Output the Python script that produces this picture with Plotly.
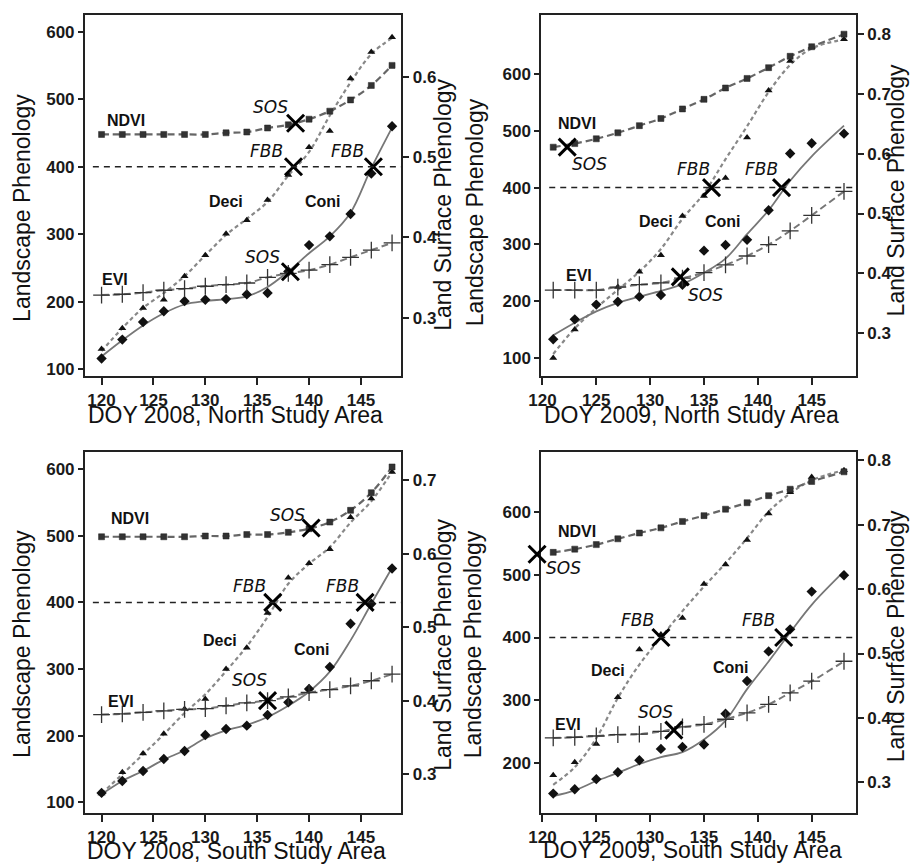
import plotly.graph_objects as go

# ---------------- North Study Area, 2008 ----------------
doy_n08 = [120, 122, 124, 126, 128, 130, 132, 134, 136, 138, 140, 142, 144, 146, 148]
ndvi_n08 = [0.528, 0.528, 0.528, 0.528, 0.528, 0.528, 0.530, 0.531, 0.536, 0.540, 0.547, 0.557, 0.571, 0.589, 0.614]
evi_n08 = [0.328, 0.329, 0.331, 0.334, 0.336, 0.339, 0.341, 0.343, 0.350, 0.355, 0.359, 0.366, 0.375, 0.384, 0.393]
deci_n08 = [130, 161, 191, 203, 238, 269, 301, 321, 351, 388, 429, 453, 531, 570, 592]
deci_fit_n08 = [127, 161, 191, 213, 238, 269, 299, 323, 348, 387, 422, 476, 525, 567, 591]
coni_n08 = [116, 144, 170, 186, 201, 203, 204, 211, 213, 245, 284, 297, 330, 390, 460]
coni_fit_n08 = [119, 143, 165, 183, 196, 201, 204, 208, 222, 245, 272, 297, 332, 398, 458]
sos_ndvi_n08 = (138.7, 0.542)
sos_evi_n08 = (138.2, 0.357)
fbb_n08 = ([138.5, 146.2], [400, 400])

# ---------------- North Study Area, 2009 ----------------
doy_n09 = [121, 123, 125, 127, 129, 131, 133, 135, 137, 139, 141, 143, 145, 148]
ndvi_n09 = [0.611, 0.617, 0.625, 0.635, 0.647, 0.659, 0.675, 0.691, 0.710, 0.726, 0.744, 0.763, 0.779, 0.800]
evi_n09 = [0.372, 0.372, 0.372, 0.377, 0.381, 0.384, 0.392, 0.401, 0.414, 0.429, 0.448, 0.471, 0.497, 0.537]
deci_n09 = [100, 150, 194, 225, 252, 281, 350, 385, 417, 488, 571, 623, 647, 661]
deci_fit_n09 = [107, 152, 188, 220, 252, 292, 345, 390, 450, 508, 568, 616, 645, 661]
coni_n09 = [133, 168, 194, 199, 208, 211, 229, 289, 299, 308, 360, 460, 478, 495]
coni_fit_n09 = [140, 162, 182, 197, 208, 218, 230, 250, 275, 318, 360, 412, 455, 509]
sos_ndvi_n09 = (122.3, 0.611)
sos_evi_n09 = (132.8, 0.394)
fbb_n09 = ([135.7, 142.2], [400, 400])

# ---------------- South Study Area, 2008 ----------------
doy_s08 = [120, 122, 124, 126, 128, 130, 132, 134, 136, 138, 140, 142, 144, 146, 148]
ndvi_s08 = [0.623, 0.623, 0.623, 0.623, 0.623, 0.624, 0.624, 0.626, 0.626, 0.629, 0.634, 0.643, 0.659, 0.683, 0.718]
evi_s08 = [0.381, 0.382, 0.384, 0.386, 0.388, 0.389, 0.393, 0.397, 0.400, 0.405, 0.411, 0.415, 0.420, 0.427, 0.436]
deci_s08 = [113, 145, 173, 203, 240, 255, 300, 332, 384, 437, 459, 480, 528, 556, 596]
deci_fit_s08 = [113, 142, 172, 202, 234, 262, 297, 334, 378, 428, 458, 483, 520, 552, 596]
coni_s08 = [114, 132, 147, 165, 177, 201, 210, 215, 231, 250, 270, 303, 368, 398, 451]
coni_fit_s08 = [112, 132, 147, 164, 178, 196, 208, 216, 228, 245, 266, 296, 343, 398, 452]
sos_ndvi_s08 = (140.2, 0.635)
sos_evi_s08 = (136.0, 0.400)
fbb_s08 = ([136.5, 145.4], [400, 400])

# ---------------- South Study Area, 2009 ----------------
doy_s09 = [121, 123, 125, 127, 129, 131, 133, 135, 137, 139, 141, 143, 145, 148]
ndvi_s09 = [0.657, 0.662, 0.669, 0.678, 0.687, 0.695, 0.705, 0.714, 0.724, 0.734, 0.745, 0.755, 0.767, 0.782]
evi_s09 = [0.369, 0.370, 0.372, 0.374, 0.375, 0.379, 0.386, 0.390, 0.398, 0.408, 0.421, 0.439, 0.457, 0.488]
deci_s09 = [181, 202, 231, 305, 381, 405, 431, 485, 516, 555, 597, 631, 655, 666]
deci_fit_s09 = [166, 194, 240, 304, 357, 400, 442, 481, 518, 558, 600, 629, 650, 666]
coni_s09 = [152, 159, 175, 186, 205, 223, 226, 230, 279, 331, 378, 413, 473, 499]
coni_fit_s09 = [148, 157, 172, 185, 199, 210, 218, 238, 268, 318, 362, 408, 452, 505]
sos_ndvi_s09 = (119.5, 0.654)
sos_evi_s09 = (132.2, 0.381)
fbb_s09 = ([131.0, 142.4], [400, 400])

# axis titles / tick labels
x_titles = ["DOY 2008, North Study Area", "DOY 2009, North Study Area",
            "DOY 2008, South Study Area", "DOY 2009, South Study Area"]
left_title = "Landscape Phenology"
right_title = "Land Surface Phenology"
x_ticks = [120, 125, 130, 135, 140, 145]
left_ticks = [[100, 200, 300, 400, 500, 600], [100, 200, 300, 400, 500, 600],
              [100, 200, 300, 400, 500, 600], [200, 300, 400, 500, 600]]
right_ticks = [[0.3, 0.4, 0.5, 0.6], [0.3, 0.4, 0.5, 0.6, 0.7, 0.8],
               [0.3, 0.4, 0.5, 0.6, 0.7], [0.3, 0.4, 0.5, 0.6, 0.7, 0.8]]
threshold = 400

panels = [
    dict(doy=doy_n08, ndvi=ndvi_n08, evi=evi_n08, deci=deci_n08, dfit=deci_fit_n08, coni=coni_n08,
         fit=coni_fit_n08, sn=sos_ndvi_n08, se=sos_evi_n08, fbb=fbb_n08),
    dict(doy=doy_n09, ndvi=ndvi_n09, evi=evi_n09, deci=deci_n09, dfit=deci_fit_n09, coni=coni_n09,
         fit=coni_fit_n09, sn=sos_ndvi_n09, se=sos_evi_n09, fbb=fbb_n09),
    dict(doy=doy_s08, ndvi=ndvi_s08, evi=evi_s08, deci=deci_s08, dfit=deci_fit_s08, coni=coni_s08,
         fit=coni_fit_s08, sn=sos_ndvi_s08, se=sos_evi_s08, fbb=fbb_s08),
    dict(doy=doy_s09, ndvi=ndvi_s09, evi=evi_s09, deci=deci_s09, dfit=deci_fit_s09, coni=coni_s09,
         fit=coni_fit_s09, sn=sos_ndvi_s09, se=sos_evi_s09, fbb=fbb_s09),
]

# layout geometry (pixels)
W, H = 914, 866
boxes = [(73, 394, 14, 377), (536, 855, 14, 377), (73, 394, 453, 816), (536, 855, 453, 816)]
x_ranges = [[118.4, 148.9], [119.9, 149.1], [118.4, 148.9], [119.9, 149.1]]
l_ranges = [[89.7, 625], [67.8, 704], [83.5, 626], [120.8, 695]]
r_ranges = [[0.2269, 0.6768], [0.2278, 0.8322], [0.2467, 0.7385], [0.2521, 0.8129]]

# in-plot labels (text, doy, left-axis value, italic?)
labels = [
    [("NDVI", 122.4, 468, False), ("EVI", 121.3, 233, False), ("Deci", 132.0, 348, False),
     ("Coni", 141.3, 348, False), ("SOS", 136.3, 489, True), ("FBB", 135.9, 424, True),
     ("FBB", 143.7, 424, True), ("SOS", 135.5, 267, True)],
    [("NDVI", 123.2, 512, False), ("SOS", 124.4, 442, True), ("FBB", 134.0, 433, True),
     ("FBB", 140.3, 433, True), ("Deci", 130.5, 340, False), ("Coni", 136.8, 340, False),
     ("EVI", 123.4, 246, False), ("SOS", 135.1, 211, True)],
    [("NDVI", 122.7, 526, False), ("SOS", 137.9, 531, True), ("FBB", 134.3, 424, True),
     ("FBB", 143.2, 424, True), ("Deci", 131.4, 343, False), ("Coni", 140.3, 330, False),
     ("SOS", 134.3, 283, True), ("EVI", 121.9, 252, False)],
    [("NDVI", 123.2, 568, False), ("SOS", 122.0, 510, True), ("FBB", 128.8, 428, True),
     ("FBB", 140.1, 428, True), ("Deci", 126.1, 347, False), ("Coni", 137.5, 352, False),
     ("EVI", 122.4, 262, False), ("SOS", 130.5, 281, True)],
]
# axis-title positions (pixels): left title (x,y), right title (x,y), x title (x,y)
title_pos = [
    ((9, 208), (436, 205), (226, 416)),
    ((469, 212), (896, 190), (688, 416)),
    ((9, 646), (436, 647), (227, 854)),
    ((467, 646), (896, 638), (689, 853)),
]

fig = go.Figure()
layout = dict(width=W, height=H, autosize=False, margin=dict(l=0, r=0, t=0, b=0),
              paper_bgcolor="white", plot_bgcolor="rgba(0,0,0,0)", showlegend=False)
annotations = []
shapes = []

TICKFONT = dict(family="Liberation Sans, Arial, sans-serif", size=17, color="#1a1a1a", weight="bold")
LINECOL = "#222222"
PX, PY = 30, 10  # padding of the invisible marker-overlay subplots

for k, p in enumerate(panels):
    xid = "x" if k == 0 else f"x{k+1}"
    ylid = "y" if k == 0 else f"y{2*k+1}"
    yrid = f"y{2*k+2}"
    xkey = "xaxis" if k == 0 else f"xaxis{k+1}"
    ylkey = "yaxis" if k == 0 else f"yaxis{2*k+1}"
    yrkey = f"yaxis{2*k+2}"
    x0, x1, y0, y1 = boxes[k]
    xdom = [x0 / W, x1 / W]
    ydom = [1 - y1 / H, 1 - y0 / H]

    layout[xkey] = dict(domain=xdom, anchor=ylid, range=x_ranges[k], tickvals=x_ticks,
                        showgrid=False, zeroline=False, showline=True, linecolor=LINECOL, linewidth=2,
                        mirror=True, ticks="outside", ticklen=7, tickwidth=1.5, tickcolor=LINECOL,
                        tickfont=TICKFONT)
    layout[ylkey] = dict(domain=ydom, anchor=xid, range=l_ranges[k], tickvals=left_ticks[k],
                         showgrid=False, zeroline=False, showline=True, linecolor=LINECOL, linewidth=2,
                         ticks="outside", ticklen=5, tickwidth=1.5, tickcolor=LINECOL, tickfont=TICKFONT)
    layout[yrkey] = dict(overlaying=ylid, side="right", anchor=xid, range=r_ranges[k],
                         tickvals=right_ticks[k], tickformat=".1f", showgrid=False, zeroline=False,
                         showline=True, linecolor=LINECOL, linewidth=2, ticks="outside", ticklen=6,
                         tickwidth=1.5, tickcolor=LINECOL, tickfont=TICKFONT)

    # invisible, slightly larger subplot with the same scales, used for the X marks
    oxid, oylid, oyrid = f"x{5+k}", f"y{9+2*k}", f"y{10+2*k}"
    xr, lr, rr = x_ranges[k], l_ranges[k], r_ranges[k]
    dxu = PX * (xr[1] - xr[0]) / (x1 - x0)
    dly = PY * (lr[1] - lr[0]) / (y1 - y0)
    dry = PY * (rr[1] - rr[0]) / (y1 - y0)
    layout[f"xaxis{5+k}"] = dict(domain=[(x0 - PX) / W, (x1 + PX) / W], anchor=oylid,
                                 range=[xr[0] - dxu, xr[1] + dxu], visible=False)
    layout[f"yaxis{9+2*k}"] = dict(domain=[1 - (y1 + PY) / H, 1 - (y0 - PY) / H], anchor=oxid,
                                   range=[lr[0] - dly, lr[1] + dly], visible=False)
    layout[f"yaxis{10+2*k}"] = dict(overlaying=oylid, anchor=oxid, side="right",
                                    range=[rr[0] - dry, rr[1] + dry], visible=False)

    # threshold line
    shapes.append(dict(type="line", xref=f"{xid} domain", yref=ylid, x0=0.025, x1=1,
                       y0=threshold, y1=threshold, line=dict(color="#222", width=1.5, dash="6px,5px")))

    # NDVI
    fig.add_trace(go.Scatter(x=p["doy"], y=p["ndvi"], xaxis=xid, yaxis=yrid, mode="lines+markers",
                             line=dict(color="#666", width=2.2, dash="7px,4px", shape="spline"),
                             marker=dict(symbol="square", size=6, color="#333",
                                         line=dict(color="#222", width=0.5))))
    # EVI
    fig.add_trace(go.Scatter(x=p["doy"], y=p["evi"], xaxis=xid, yaxis=yrid, mode="lines+markers",
                             line=dict(color="#777", width=2, dash="7px,4px", shape="spline"),
                             marker=dict(symbol="cross-thin", size=12, color="#333",
                                         line=dict(color="#333", width=1.3))))
    # Deci fitted curve + observations
    fig.add_trace(go.Scatter(x=p["doy"], y=p["dfit"], xaxis=xid, yaxis=ylid, mode="lines",
                             line=dict(color="#888", width=2.2, dash="4px,3px", shape="spline")))
    fig.add_trace(go.Scatter(x=p["doy"], y=p["deci"], xaxis=xid, yaxis=ylid, mode="markers",
                             marker=dict(symbol="triangle-up", size=7, color="#111")))
    # Coni fitted curve + observations
    fig.add_trace(go.Scatter(x=p["doy"], y=p["fit"], xaxis=xid, yaxis=ylid, mode="lines",
                             line=dict(color="#777", width=1.8, shape="spline")))
    fig.add_trace(go.Scatter(x=p["doy"], y=p["coni"], xaxis=xid, yaxis=ylid, mode="markers",
                             marker=dict(symbol="diamond", size=8, color="#111")))
    # X markers (SOS on land-surface scale, FBB on landscape scale)
    xm = dict(symbol="x-thin", size=17, color="black", line=dict(color="black", width=3))
    fig.add_trace(go.Scatter(x=[p["sn"][0], p["se"][0]], y=[p["sn"][1], p["se"][1]], xaxis=oxid,
                             yaxis=oyrid, mode="markers", marker=xm, cliponaxis=False))
    fig.add_trace(go.Scatter(x=p["fbb"][0], y=p["fbb"][1], xaxis=oxid, yaxis=oylid, mode="markers",
                             marker=xm, cliponaxis=False))

    for (txt, lx, ly, ital) in labels[k]:
        if ital:
            annotations.append(dict(x=lx, y=ly, xref=xid, yref=ylid, text=f"<i>{txt}</i>", showarrow=False,
                                    font=dict(family="DejaVu Sans, Verdana, sans-serif", size=17, color="#111")))
        else:
            annotations.append(dict(x=lx, y=ly, xref=xid, yref=ylid, text=txt, showarrow=False,
                                    font=dict(family="Liberation Sans, Arial, sans-serif", size=16,
                                              color="#111", weight="bold")))

    (lx, ly), (rx, ry), (tx, ty) = title_pos[k]
    tf = dict(family="Liberation Sans, Arial, sans-serif", size=23, color="#111")
    annotations.append(dict(x=lx / W, y=1 - ly / H, xref="paper", yref="paper", text=left_title,
                            textangle=-90, showarrow=False, font=tf, xanchor="center", yanchor="middle"))
    annotations.append(dict(x=rx / W, y=1 - ry / H, xref="paper", yref="paper", text=right_title,
                            textangle=-90, showarrow=False, font=tf, xanchor="center", yanchor="middle"))
    annotations.append(dict(x=tx / W, y=1 - ty / H, xref="paper", yref="paper", text=x_titles[k],
                            showarrow=False, font=tf, xanchor="center", yanchor="middle"))

layout["annotations"] = annotations
layout["shapes"] = shapes
fig.update_layout(**layout)
fig.write_html("out.html")
